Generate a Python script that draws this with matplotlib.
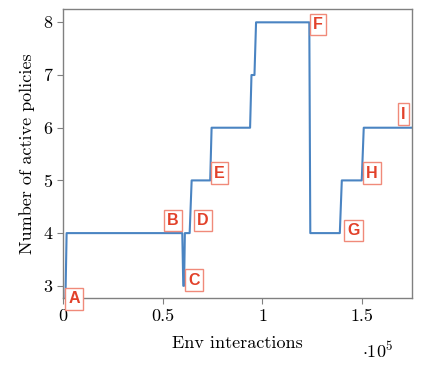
import matplotlib
matplotlib.use("Agg")
import matplotlib.pyplot as plt
from matplotlib.ticker import FuncFormatter

plt.rcParams['font.family'] = 'serif'
plt.rcParams['font.serif'] = ['cmr10', 'DejaVu Serif']
plt.rcParams['mathtext.fontset'] = 'cm'
plt.rcParams['axes.unicode_minus'] = False

# Env interactions and number of active policies (step trace)
steps_x = [0, 1200, 1800, 59800, 60300, 60700, 61100, 63500, 64500,
           73800, 74500, 93800, 94500, 96000, 96800, 123500, 124000,
           138800, 139800, 149800, 150800, 175000]
policies = [2.75, 2.75, 4, 4, 3, 3, 4, 4, 5,
            5, 6, 6, 7, 7, 8, 8, 4,
            4, 5, 5, 6, 6]

# Event labels and their anchor points
event_names = ['A', 'B', 'C', 'D', 'E', 'F', 'G', 'H', 'I']
event_x = [5500, 55000, 65700, 70000, 78500, 127800, 145500, 155000, 170700]
event_y = [2.75, 4.24, 3.11, 4.24, 5.14, 7.96, 4.05, 5.14, 6.26]

x_ticks = [0, 50000, 100000, 150000]
y_ticks = [3, 4, 5, 6, 7, 8]

fig = plt.figure(figsize=(4.23, 3.66), dpi=100)
ax = fig.add_axes([0.149, 0.186, 0.825, 0.789])

ax.plot(steps_x, policies, color='#4a84c2', lw=1.5)

for name, xv, yv in zip(event_names, event_x, event_y):
    ax.text(xv, yv, name, ha='center', va='center', color='#e2412a',
            fontsize=11.5, fontweight='bold', family='Liberation Sans',
            bbox=dict(boxstyle='square,pad=0.2', fc='white', ec='#f08a7a', lw=1.0))

ax.set_xlim(0, 175000)
ax.set_ylim(2.77, 8.25)
ax.set_xticks(x_ticks)
ax.set_yticks(y_ticks)

def fmt(v, pos):
    return '%g' % (v / 1e5)
ax.xaxis.set_major_formatter(FuncFormatter(fmt))

for sp in ax.spines.values():
    sp.set_color('#808080')
    sp.set_linewidth(1.0)
ax.tick_params(axis='both', colors='#808080', labelcolor='black', labelsize=13,
               length=4, direction='out')

ax.set_xlabel('Env interactions', fontsize=13, labelpad=9)
ax.set_ylabel('Number of active policies', fontsize=13, labelpad=6)
fig.text(0.892, 0.042, r'$\cdot 10^5$', fontsize=13, ha='center', va='center')

fig.savefig('out.png', dpi=100)
